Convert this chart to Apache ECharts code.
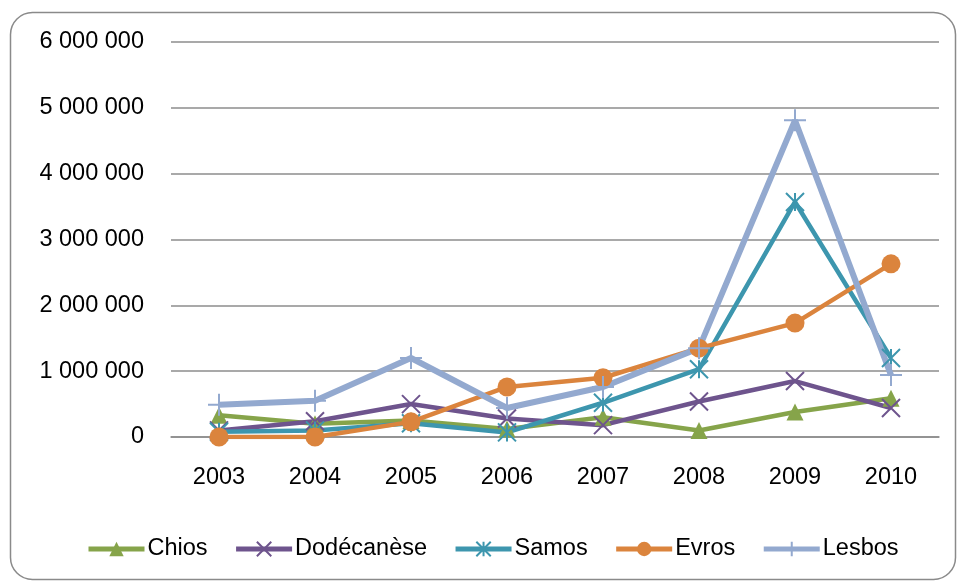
<!DOCTYPE html>
<html>
<head>
<meta charset="utf-8">
<script src="https://cdn.jsdelivr.net/npm/echarts@6/dist/echarts.min.js"></script>
<style>
html,body{margin:0;padding:0;background:#fff;}
#chart{width:958px;height:582px;}
</style>
</head>
<body>
<div id="chart"></div>
<script>
// Years on the category axis
const years = ['2003', '2004', '2005', '2006', '2007', '2008', '2009', '2010'];

// Arrivals per region and year
const chios      = [330000, 200000, 250000, 120000, 300000, 100000, 380000, 590000];
const dodecanese = [100000, 240000, 500000, 280000, 180000, 540000, 850000, 440000];
const samos      = [80000, 100000, 210000, 70000, 520000, 1030000, 3570000, 1200000];
const evros      = [0, 0, 230000, 760000, 900000, 1350000, 1730000, 2630000];
const lesbos     = [490000, 550000, 1200000, 440000, 760000, 1350000, 4810000, 940000];

const FONT = '"Liberation Sans", "Open Sans", sans-serif';
const FS = 23.5;

const X_PATH = 'path://M0 0L10 10M10 0L0 10';
const STAR_PATH = 'path://M0 0L10 10M10 0L0 10M5 0L5 10';
const PLUS_PATH = 'path://M5 0L5 10M0 5L10 5';

function fmt(v) {
  return String(v).replace(/\B(?=(\d{3})+(?!\d))/g, ' ');
}

function mk(name, data, color, symbol, size, stroked, width) {
  return {
    name: name,
    type: 'line',
    data: data,
    symbol: symbol,
    symbolSize: size,
    showAllSymbol: true,
    lineStyle: { color: color, width: width },
    itemStyle: stroked
      ? { color: color, borderColor: color, borderWidth: 2 }
      : { color: color, borderWidth: 0 },
    emphasis: { disabled: true },
    animation: false
  };
}

const chart = echarts.init(document.getElementById('chart'), null, { renderer: 'canvas' });
chart.setOption({
  backgroundColor: '#fff',
  animation: false,
  graphic: [{
    type: 'rect',
    shape: { x: 10.5, y: 12.5, width: 945, height: 567, r: 22 },
    style: { fill: 'none', stroke: '#8a8a8a', lineWidth: 1.5 },
    z: -10
  }],
  grid: { left: 171, right: 19, top: 42, bottom: 145, containLabel: false },
  legend: {
    top: 532,
    left: 81,
    itemWidth: 56,
    itemHeight: 18,
    itemGap: 26,
    lineStyle: { width: 5 },
    textStyle: { fontFamily: FONT, fontSize: FS, color: '#000', padding: [0, 0, 0, -2] },
    data: ['Chios', 'Dodécanèse', 'Samos', 'Evros', 'Lesbos']
  },
  xAxis: {
    type: 'category',
    data: years,
    boundaryGap: true,
    axisLine: { show: true, lineStyle: { color: '#8c8c8c', width: 1.5 } },
    axisTick: { show: false },
    axisLabel: { fontFamily: FONT, fontSize: FS, color: '#000', margin: 29 }
  },
  yAxis: {
    type: 'value',
    min: 0,
    max: 6000000,
    interval: 1000000,
    axisLine: { show: false },
    axisTick: { show: false },
    splitLine: { lineStyle: { color: '#8c8c8c', width: 1.5 } },
    axisLabel: { fontFamily: FONT, fontSize: FS, color: '#000', margin: 27, formatter: fmt }
  },
  series: [
    mk('Chios', chios, '#86a44a', 'triangle', 17, false, 4.5),
    mk('Dodécanèse', dodecanese, '#6e548d', X_PATH, 18, true, 4.5),
    mk('Samos', samos, '#3d96ae', STAR_PATH, 18, true, 4.5),
    mk('Evros', evros, '#db843d', 'circle', 19, false, 4.5),
    mk('Lesbos', lesbos, '#93a9cf', PLUS_PATH, 22, true, 6)
  ]
});
</script>
</body>
</html>
